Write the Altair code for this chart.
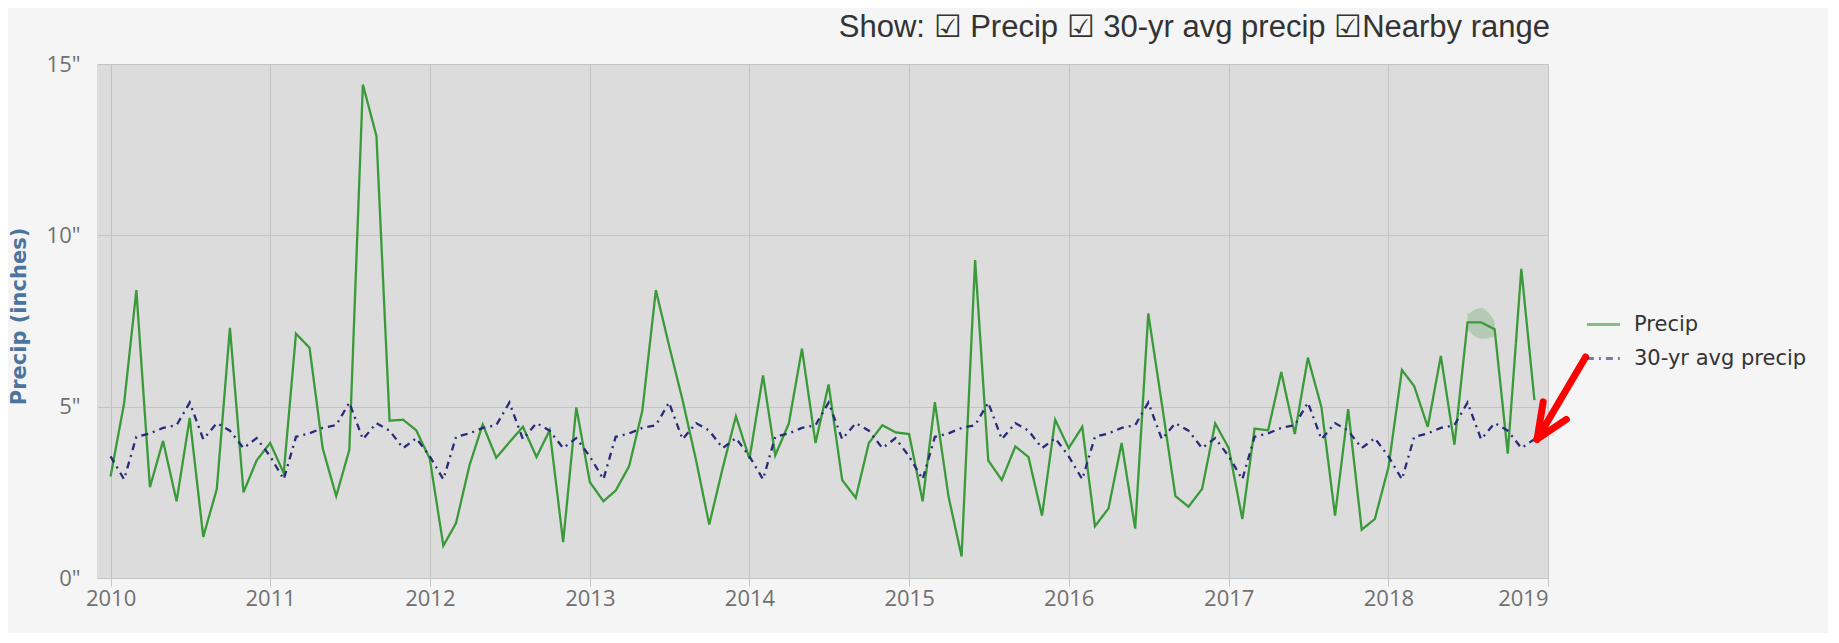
import altair as alt
import pandas as pd

# ---- data ----
months = pd.date_range("2010-01-01", periods=108, freq="MS")

precip_2010 = [2.96, 5.10, 8.40, 2.65, 4.00, 2.24, 4.67, 1.20, 2.60, 7.30, 2.50, 3.43]
precip_2011 = [3.94, 3.06, 7.13, 6.72, 3.79, 2.39, 3.74, 14.40, 12.90, 4.59, 4.62, 4.31]
precip_2012 = [3.48, 0.94, 1.60, 3.30, 4.48, 3.51, 3.96, 4.41, 3.53, 4.31, 1.05, 4.98]
precip_2013 = [2.80, 2.24, 2.55, 3.27, 4.88, 8.40, 6.79, 5.19, 3.43, 1.56, 3.22, 4.72]
precip_2014 = [3.48, 5.91, 3.58, 4.51, 6.69, 3.94, 5.65, 2.86, 2.34, 3.94, 4.46, 4.25]
precip_2015 = [4.20, 2.24, 5.13, 2.39, 0.63, 9.28, 3.43, 2.86, 3.84, 3.53, 1.82, 4.62]
precip_2016 = [3.79, 4.41, 1.51, 2.03, 3.94, 1.44, 7.72, 5.08, 2.39, 2.08, 2.60, 4.51]
precip_2017 = [3.79, 1.72, 4.36, 4.31, 6.01, 4.20, 6.43, 4.98, 1.82, 4.93, 1.41, 1.72]
precip_2018 = [3.22, 6.07, 5.60, 4.41, 6.48, 3.89, 7.46, 7.46, 7.26, 3.63, 9.02, 5.19]

avg_2010 = [3.55, 2.88, 4.12, 4.22, 4.38, 4.46, 5.12, 4.05, 4.52, 4.30, 3.79, 4.08]
avg_2011 = [3.55, 2.88, 4.12, 4.22, 4.38, 4.46, 5.12, 4.05, 4.52, 4.30, 3.79, 4.08]
avg_2012 = [3.55, 2.88, 4.12, 4.22, 4.38, 4.46, 5.12, 4.05, 4.52, 4.30, 3.79, 4.08]
avg_2013 = [3.55, 2.88, 4.12, 4.22, 4.38, 4.46, 5.12, 4.05, 4.52, 4.30, 3.79, 4.08]
avg_2014 = [3.55, 2.88, 4.12, 4.22, 4.38, 4.46, 5.12, 4.05, 4.52, 4.30, 3.79, 4.08]
avg_2015 = [3.55, 2.88, 4.12, 4.22, 4.38, 4.46, 5.12, 4.05, 4.52, 4.30, 3.79, 4.08]
avg_2016 = [3.55, 2.88, 4.12, 4.22, 4.38, 4.46, 5.12, 4.05, 4.52, 4.30, 3.79, 4.08]
avg_2017 = [3.55, 2.88, 4.12, 4.22, 4.38, 4.46, 5.12, 4.05, 4.52, 4.30, 3.79, 4.08]
avg_2018 = [3.55, 2.88, 4.12, 4.22, 4.38, 4.46, 5.12, 4.05, 4.52, 4.30, 3.79, 4.05]

range_months = ["2018-07-01", "2018-08-01", "2018-09-01"]
range_low = [7.25, 6.98, 7.05]
range_high = [7.70, 7.88, 7.50]

year_ticks = ["2010", "2011", "2012", "2013", "2014", "2015", "2016", "2017", "2018", "2019"]
series_names = ["Precip", "30-yr avg precip"]
header_text = "Show: \u2611 Precip \u2611 30-yr avg precip \u2611Nearby range"

# red arrow annotation (data coordinates)
arrow_x = ["2019-03-28", "2018-12-07", "2018-12-07"]
arrow_x2 = ["2018-12-07", "2018-12-21", "2019-02-12"]
arrow_y = [6.45, 4.05, 4.05]
arrow_y2 = [4.05, 5.14, 4.63]

# ---- tables ----
precip = (precip_2010 + precip_2011 + precip_2012 + precip_2013 + precip_2014
          + precip_2015 + precip_2016 + precip_2017 + precip_2018)
avg = (avg_2010 + avg_2011 + avg_2012 + avg_2013 + avg_2014
       + avg_2015 + avg_2016 + avg_2017 + avg_2018)

lines_df = pd.concat([
    pd.DataFrame({"date": months, "value": precip, "series": series_names[0]}),
    pd.DataFrame({"date": months, "value": avg, "series": series_names[1]}),
])
range_df = pd.DataFrame({"date": pd.to_datetime(range_months), "low": range_low, "high": range_high})
arrow_df = pd.DataFrame({"x": pd.to_datetime(arrow_x), "x2": pd.to_datetime(arrow_x2),
                         "y": arrow_y, "y2": arrow_y2})
header_df = pd.DataFrame({"t": [header_text]})

x_domain = [alt.DateTime(year=2009, month=12, date=1), alt.DateTime(year=2019, month=1, date=1)]
x_values = [alt.DateTime(year=int(y), month=1, date=1) for y in year_ticks]
x_scale = alt.Scale(domain=x_domain)
y_scale = alt.Scale(domain=[0, 15], nice=False)

x_enc = alt.X(
    "date:T",
    scale=x_scale,
    axis=alt.Axis(values=x_values, format="%Y", title=None, grid=True,
                  gridColor="#c4c4c4", gridWidth=1, tickSize=8, tickColor="#c4c4c4",
                  domain=True, domainColor="#c4c4c4", labelPadding=2,
                  labelFont="Open Sans", labelFontSize=22, labelColor="#707070"),
)
y_enc = alt.Y(
    "value:Q",
    scale=y_scale,
    axis=alt.Axis(values=[0, 5, 10, 15], labelExpr="datum.value + '\"'",
                  title="Precip (inches)", grid=True, gridColor="#c4c4c4", gridWidth=1,
                  ticks=False, domain=False, labelPadding=17,
                  labelFont="Open Sans", labelFontSize=22, labelColor="#707070",
                  titleFont="DejaVu Sans", titleFontSize=21, titleFontWeight="bold",
                  titleColor="#4d749f", titleX=-78, titleY=252,
                  titleAlign="center", titleBaseline="middle"),
)

legend = alt.Legend(
    title=None, orient="none", legendX=1488, legendY=242, symbolType="stroke",
    symbolSize=1100, symbolStrokeWidth=3, symbolOpacity=0.6, labelFont="DejaVu Sans",
    labelFontSize=21, labelColor="#333333", rowPadding=5, labelOffset=12, padding=0,
    labelLimit=0,
)

band = alt.Chart(range_df).mark_area(color="#4f9f4f", opacity=0.28, interpolate="monotone").encode(
    x=alt.X("date:T", scale=x_scale),
    y=alt.Y("low:Q", scale=y_scale),
    y2="high:Q",
)

lines = alt.Chart(lines_df).mark_line(strokeWidth=2.3).encode(
    x=x_enc,
    y=y_enc,
    color=alt.Color("series:N", scale=alt.Scale(domain=series_names, range=["#3a9a3a", "#2a2a7c"]),
                    legend=legend, sort=series_names),
    strokeDash=alt.StrokeDash("series:N", scale=alt.Scale(domain=series_names, range=[[1, 0], [7, 5, 2, 5]]),
                              legend=legend, sort=series_names),
)

arrow = alt.Chart(arrow_df).mark_rule(color="#ff0000", strokeWidth=7, strokeCap="round", clip=False).encode(
    x=alt.X("x:T", scale=x_scale),
    x2="x2:T",
    y=alt.Y("y:Q", scale=y_scale),
    y2="y2:Q",
)

header = alt.Chart(header_df).mark_text(
    align="right", baseline="alphabetic", font="Liberation Sans", fontSize=31,
    color="#333333", clip=False,
).encode(text="t:N", x=alt.value(1453), y=alt.value(-27))

chart = alt.layer(band, lines, arrow, header).properties(
    width=1451, height=514,
    autosize=alt.AutoSizeParams(type="none"),
    padding={"left": 89, "top": 56, "right": 280, "bottom": 55},
).configure(background="#f5f5f5").configure_view(fill="#dcdcdc", stroke=None)

chart.save("out.html", embed_options={"renderer": "svg", "actions": False})
